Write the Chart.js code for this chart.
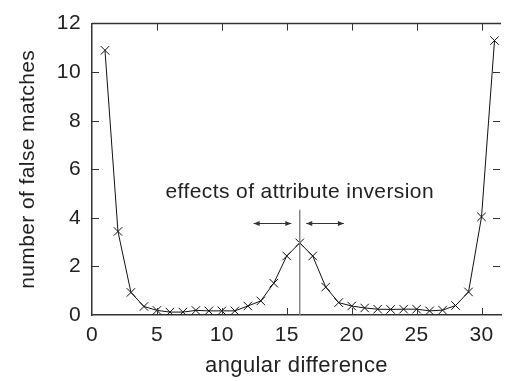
<!DOCTYPE html>
<html>
<head>
<meta charset="utf-8">
<script src="https://cdn.jsdelivr.net/npm/chart.js@4/dist/chart.umd.min.js"></script>
<style>
  html, body { margin: 0; padding: 0; background: #fff; overflow: hidden; }
  #wrap { width: 508px; height: 381px; }
</style>
</head>
<body>
<div id="wrap"><canvas id="grafico"></canvas></div>
<script>
// datos
const angulos = [1, 2, 3, 4, 5, 6, 7, 8, 9, 10, 11, 12, 13, 14, 15, 16,
                 17, 18, 19, 20, 21, 22, 23, 24, 25, 26, 27, 28, 29, 30, 31];
const falsosMatches = [10.9, 3.44, 0.93, 0.35, 0.19, 0.12, 0.12, 0.19, 0.17, 0.17, 0.17, 0.37, 0.58, 1.31, 2.43, 2.97,
                       2.43, 1.15, 0.51, 0.37, 0.29, 0.24, 0.23, 0.24, 0.24, 0.17, 0.2, 0.39, 0.95, 4.04, 11.3];
const ticksX = [0, 5, 10, 15, 20, 25, 30];
const ticksY = [0, 2, 4, 6, 8, 10, 12];

// anotación
const lineaInversion = 16;
const lineaTope = 4.33;
const flechaIzq = [15.35, 12.45];
const flechaDer = [16.5, 19.4];
const flechaY = 3.77;
const textoAnotacion = 'effects of attribute inversion';
const textoPos = [16.0, 5.04];

const fuente = '"Liberation Sans", Arial, sans-serif';
const colorEje = '#333';
const colorTexto = '#222';

// ticks hacia adentro en los cuatro lados + borde superior + anotaciones
const pluginMarco = {
    id: 'marco',
    beforeDraw(chart) {
        chart.ctx.letterSpacing = '0.4px';
    },
    afterDatasetsDraw(chart) {
        const { ctx, chartArea: a, scales: { x, y } } = chart;
        ctx.save();
        // línea vertical en 16
        ctx.strokeStyle = '#808080';
        ctx.lineWidth = 1.4;
        const xv = x.getPixelForValue(lineaInversion);
        ctx.beginPath();
        ctx.moveTo(xv, y.getPixelForValue(0));
        ctx.lineTo(xv, y.getPixelForValue(lineaTope));
        ctx.stroke();

        // flechas
        ctx.strokeStyle = '#333';
        ctx.fillStyle = '#333';
        ctx.lineWidth = 1;
        [flechaIzq, flechaDer].forEach(([d1, d2]) => {
            const p1 = x.getPixelForValue(d1), p2 = x.getPixelForValue(d2);
            const py = Math.round(y.getPixelForValue(flechaY)) + 0.5;
            ctx.beginPath();
            ctx.moveTo(p1, py);
            ctx.lineTo(p2, py);
            ctx.stroke();
            [[p1, p2], [p2, p1]].forEach(([tip, from]) => {
                const s = Math.sign(tip - from);
                ctx.beginPath();
                ctx.moveTo(tip, py);
                ctx.lineTo(tip - s * 6, py - 2.5);
                ctx.lineTo(tip - s * 6, py + 2.5);
                ctx.closePath();
                ctx.fill();
            });
        });

        // texto
        ctx.font = '21px ' + fuente;
        ctx.fillStyle = colorTexto;
        ctx.textAlign = 'center';
        ctx.textBaseline = 'middle';
        ctx.fillText(textoAnotacion, x.getPixelForValue(textoPos[0]), y.getPixelForValue(textoPos[1]));

        // marco
        ctx.strokeStyle = colorEje;
        ctx.lineWidth = 1.5;
        ctx.beginPath();
        ctx.moveTo(a.left, a.top);
        ctx.lineTo(a.right, a.top);
        ctx.stroke();

        ctx.lineWidth = 1;
        const largo = 7;
        ticksX.forEach(v => {
            if (v === 0) return;
            const px = Math.round(x.getPixelForValue(v)) + 0.5;
            ctx.beginPath();
            ctx.moveTo(px, a.bottom);
            ctx.lineTo(px, a.bottom - largo);
            ctx.moveTo(px, a.top);
            ctx.lineTo(px, a.top + largo);
            ctx.stroke();
        });
        ticksY.forEach(v => {
            if (v === 0 || v === 12) return;
            const py = Math.round(y.getPixelForValue(v)) + 0.5;
            ctx.beginPath();
            ctx.moveTo(a.left, py);
            ctx.lineTo(a.left + largo, py);
            ctx.moveTo(a.right - 1, py);
            ctx.lineTo(a.right - 1 - largo, py);
            ctx.stroke();
        });
        ctx.restore();
    }
};

const ctx = document.getElementById('grafico').getContext('2d');
new Chart(ctx, {
    type: 'scatter',
    data: {
        datasets: [{
            data: angulos.map((a, i) => ({ x: a, y: falsosMatches[i] })),
            showLine: true,
            borderColor: '#111',
            borderWidth: 1,
            pointStyle: 'crossRot',
            pointRadius: 6,
            pointBorderColor: '#111',
            pointBorderWidth: 1,
            tension: 0
        }]
    },
    options: {
        responsive: true,
        maintainAspectRatio: false,
        animation: false,
        events: [],
        layout: { padding: { top: 18, right: 0, left: 0, bottom: 0 } },
        plugins: {
            legend: { display: false },
            tooltip: { enabled: false }
        },
        scales: {
            x: {
                type: 'linear',
                min: 0,
                max: 31.5,
                afterBuildTicks: s => { s.ticks = ticksX.map(v => ({ value: v })); },
                afterFit: s => { s.height = 66; },
                grid: { display: false, drawTicks: false },
                border: { display: true, color: colorEje, width: 1.5 },
                ticks: { color: colorTexto, font: { family: fuente, size: 21 }, padding: 8, maxRotation: 0 },
                title: { display: true, text: 'angular difference', color: colorTexto, font: { family: fuente, size: 22 }, padding: { top: 2, bottom: 2 } }
            },
            y: {
                min: 0,
                max: 12,
                afterBuildTicks: s => { s.ticks = ticksY.map(v => ({ value: v })); },
                afterFit: s => { s.width = 92; },
                grid: { display: false, drawTicks: false },
                border: { display: true, color: colorEje, width: 1.5 },
                ticks: { color: colorTexto, font: { family: fuente, size: 21 }, padding: 11 },
                title: { display: true, text: 'number of false matches', color: colorTexto, font: { family: fuente, size: 21 }, padding: { top: 16, bottom: 16 } }
            }
        }
    },
    plugins: [pluginMarco]
});
</script>
</body>
</html>
